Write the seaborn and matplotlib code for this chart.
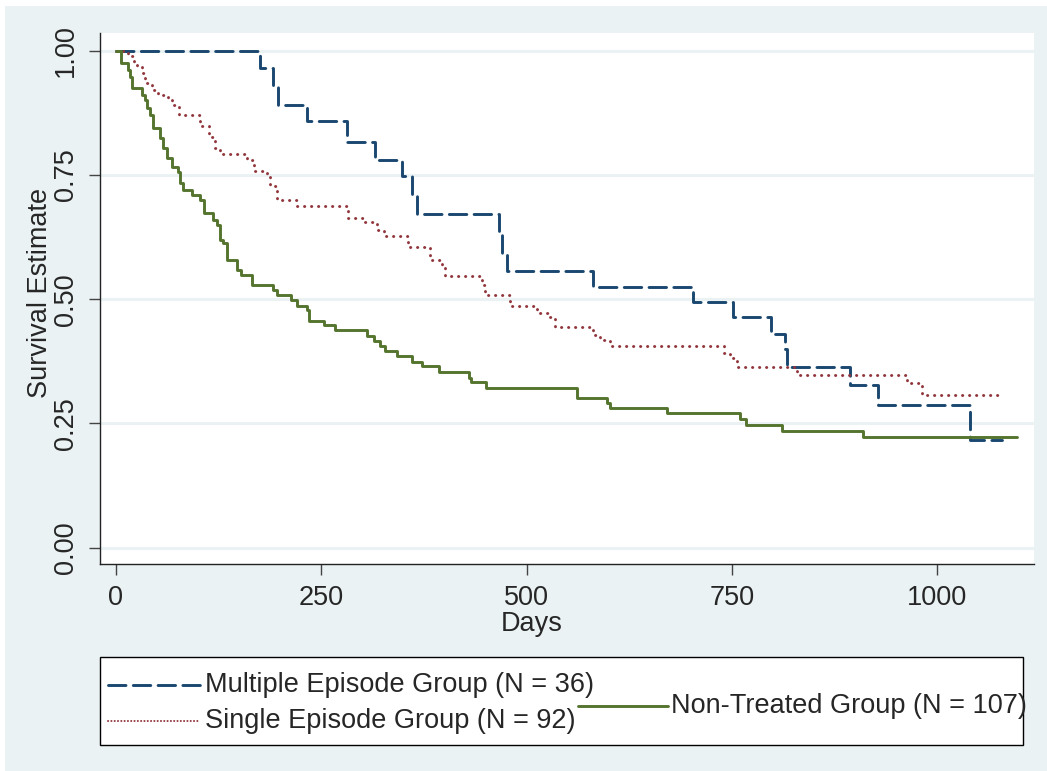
import numpy as np
import pandas as pd
import matplotlib
matplotlib.use("Agg")
import matplotlib.pyplot as plt
from matplotlib.lines import Line2D
from matplotlib.patches import Rectangle
import seaborn as sns

# Kaplan-Meier step values
days_mult = [0, 176, 192, 197, 233, 282, 316, 349, 361, 367, 466, 470, 476,
             581, 703, 751, 798, 814, 817, 894, 928, 1040, 1079]
surv_mult = [1.0, 0.966, 0.928, 0.891, 0.859, 0.817, 0.781, 0.749, 0.712, 0.672,
             0.634, 0.593, 0.557, 0.525, 0.495, 0.464, 0.430, 0.399, 0.364,
             0.327, 0.287, 0.216, 0.216]

days_single = [0, 15, 22, 26, 32, 36, 44, 52, 64, 69, 77, 103, 113, 121, 127,
               160, 168, 184, 188, 196, 221, 283, 302, 318, 326, 356, 382, 397,
               401, 446, 450, 480, 513, 529, 535, 581, 590, 602, 740, 748, 756,
               829, 963, 981, 1080]
surv_single = [1.0, 0.989, 0.978, 0.967, 0.956, 0.935, 0.922, 0.911, 0.902,
               0.891, 0.870, 0.848, 0.826, 0.804, 0.793, 0.780, 0.758, 0.747,
               0.727, 0.700, 0.687, 0.664, 0.655, 0.640, 0.628, 0.606, 0.579,
               0.569, 0.546, 0.529, 0.509, 0.486, 0.473, 0.465, 0.445, 0.429,
               0.418, 0.405, 0.392, 0.382, 0.364, 0.347, 0.331, 0.307, 0.307]

days_none = [0, 6, 15, 17, 20, 32, 36, 38, 42, 45, 54, 58, 62, 68, 76, 78, 82,
             93, 103, 107, 119, 123, 127, 131, 135, 148, 152, 166, 192, 196,
             213, 221, 233, 235, 253, 267, 306, 314, 322, 328, 342, 361, 373,
             393, 430, 432, 451, 561, 598, 601, 671, 760, 767, 811, 909, 1097]
surv_none = [1.0, 0.975, 0.962, 0.948, 0.925, 0.911, 0.901, 0.885, 0.871,
             0.844, 0.824, 0.804, 0.784, 0.767, 0.757, 0.734, 0.720, 0.710,
             0.700, 0.673, 0.660, 0.650, 0.620, 0.613, 0.580, 0.559, 0.549,
             0.529, 0.518, 0.508, 0.498, 0.487, 0.479, 0.457, 0.449, 0.439,
             0.427, 0.415, 0.405, 0.395, 0.385, 0.374, 0.365, 0.353, 0.341,
             0.333, 0.321, 0.301, 0.292, 0.281, 0.270, 0.259, 0.247, 0.234,
             0.222, 0.222]

labels = ["Multiple Episode Group (N = 36)",
          "Single Episode Group (N = 92)",
          "Non-Treated Group (N = 107)"]
colors = ["#1A476F", "#90353B", "#55752F"]
dotted = (0, (0.1, 2.3))
styles = [(0, (6, 2.5)), dotted, "-"]

x_ticks = [0, 250, 500, 750, 1000]
y_ticks = [0.0, 0.25, 0.5, 0.75, 1.0]

sns.set_style("white")
plt.rcParams["font.family"] = ["Liberation Sans", "DejaVu Sans"]
fs = 19.5

bg = "#EAF2F3"
fig = plt.figure(figsize=(10.47, 7.71), dpi=100)
fig.patch.set_facecolor("white")
fig.patches.append(Rectangle((5 / 1047, 0), 1, 1 - 6 / 771, transform=fig.transFigure,
                             facecolor=bg, edgecolor="none", zorder=-5))
ax = fig.add_axes([99.5 / 1047, 1 - 564 / 771, 934 / 1047, 531 / 771])
ax.set_facecolor("white")

groups = [(days_mult, surv_mult), (days_single, surv_single), (days_none, surv_none)]
for (d, s), col, ls in zip(groups, colors, styles):
    df = pd.DataFrame({"days": d, "surv": s})
    sns.lineplot(data=df, x="days", y="surv", ax=ax, color=col, linestyle=ls,
                 lw=2.1, drawstyle="steps-post", estimator=None, sort=False,
                 dash_capstyle="round", zorder=3)

ax.set_xlim(-19.7, 1117)
ax.set_ylim(-0.033, 1.036)
ax.set_xticks(x_ticks)
ax.set_xticklabels([str(t) for t in x_ticks])
ax.set_yticks(y_ticks)
ax.set_yticklabels([f"{t:.2f}" for t in y_ticks])
for y in y_ticks:
    ax.axhline(y, color=bg, lw=2.2, zorder=1)

for sp in ["top", "right"]:
    ax.spines[sp].set_visible(False)
for sp in ["left", "bottom"]:
    ax.spines[sp].set_color("#222222")
    ax.spines[sp].set_linewidth(1.0)

ax.tick_params(axis="both", direction="out", length=8, width=1, color="#444444",
               labelsize=fs, pad=7, left=True, bottom=True)
ax.tick_params(axis="y", labelrotation=90)
for lab in ax.get_yticklabels():
    lab.set_va("center")

ax.set_xlabel("Days", fontsize=fs)
ax.set_ylabel("Survival Estimate", fontsize=fs)
ax.xaxis.set_label_coords(0.463, -0.088)
ax.yaxis.set_label_coords(-0.05, 0.51)

# legend box drawn Stata-style
def fx(px):
    return px / 1047

def fy(py):
    return 1 - py / 771

fig.patches.append(Rectangle((fx(100), fy(745)), fx(923), 88 / 771, transform=fig.transFigure,
                             facecolor="white", edgecolor="black", lw=1.0, zorder=1))
entries = [(108, 200, 685, 205), (108, 200, 721, 205), (578, 668, 706, 671)]
for (x0, x1, yy, tx), lab, col, ls in zip(entries, labels, colors, styles):
    is_dot = ls == dotted
    fig.add_artist(Line2D([fx(x0), fx(x1)], [fy(yy), fy(yy)], transform=fig.transFigure,
                          color=col, linestyle=(0, (0.1, 1.6)) if is_dot else ls,
                          lw=1.4 if is_dot else 2.1, dash_capstyle="round"))
    fig.text(fx(tx), fy(yy), lab, fontsize=fs, va="center", ha="left")

fig.savefig("out.png", dpi=100, facecolor=fig.get_facecolor())
